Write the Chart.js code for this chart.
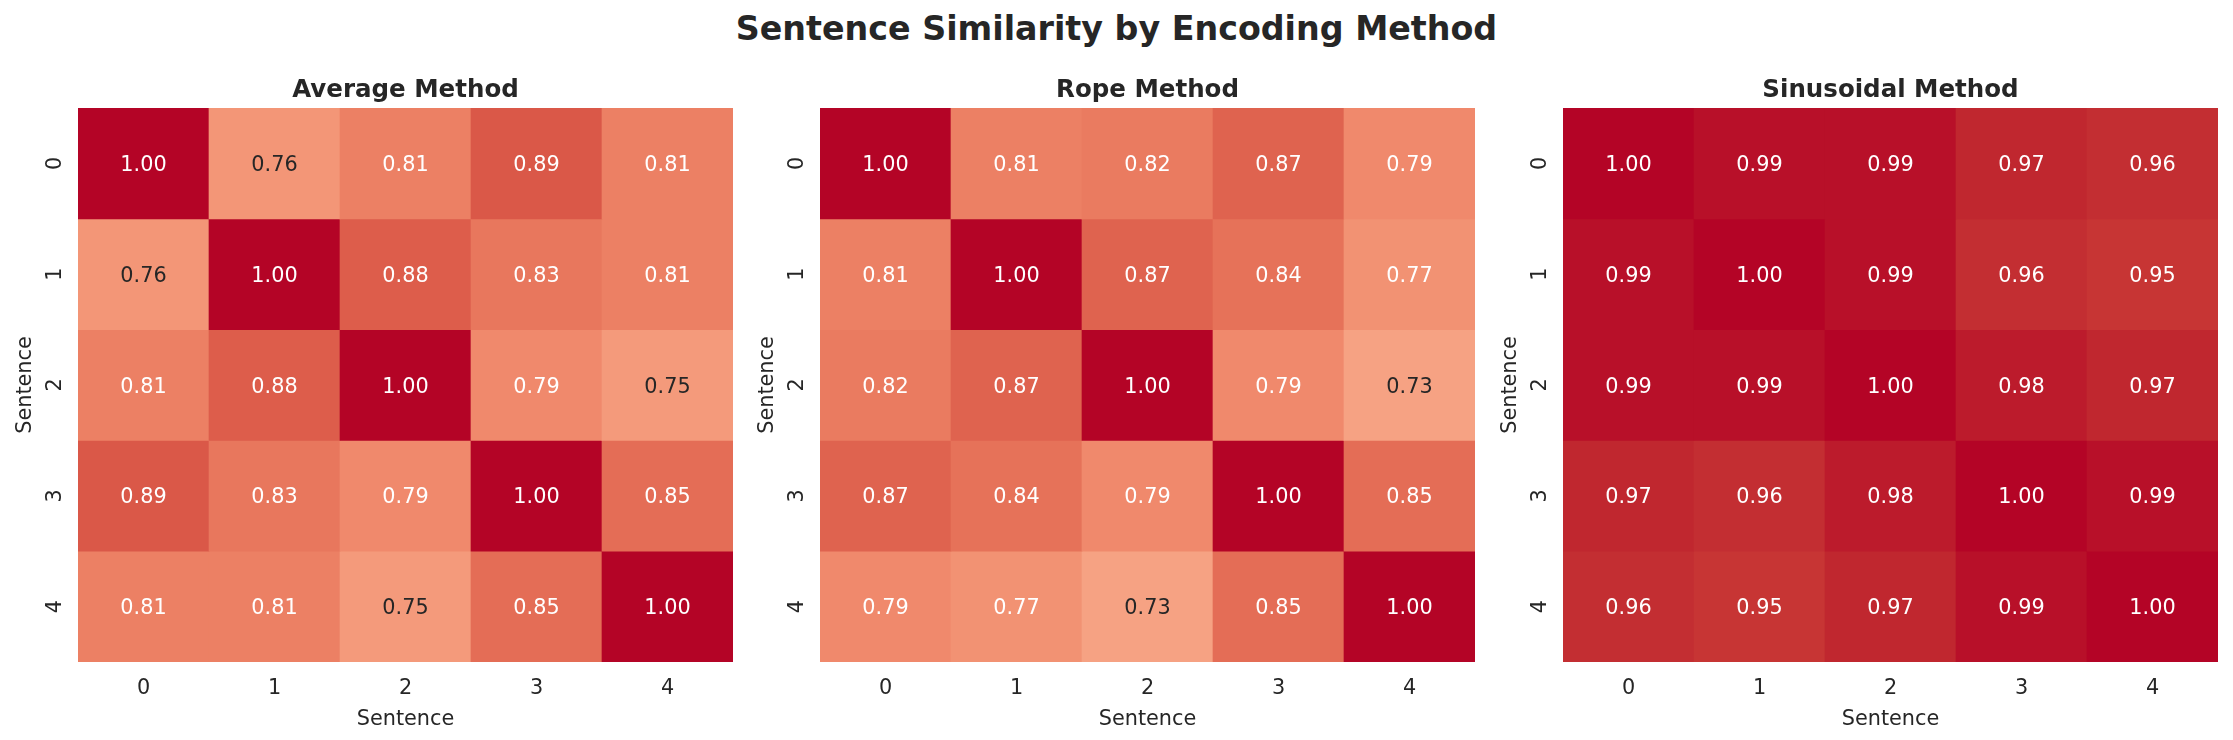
<!DOCTYPE html>
<html>
<head>
<meta charset="utf-8">
<script src="https://cdn.jsdelivr.net/npm/chart.js@4.4.1/dist/chart.umd.min.js"></script>
<style>
  html, body { margin: 0; padding: 0; background: #ffffff; }
  #wrap { position: relative; width: 2233px; height: 740px; overflow: hidden; background: #ffffff; }
  #mainTitle { position: absolute; left: 0; top: 0; width: 2233px; height: 58px; line-height: 58px;
    text-align: center; font-family: "DejaVu Sans"; font-weight: bold; font-size: 33.3px; color: #262626; white-space: nowrap; }
  canvas { position: absolute; top: 0; }
</style>
</head>
<body>
<div id="wrap">
  <div id="mainTitle"></div>
  <canvas id="c0" width="739" height="740" style="left:0px"></canvas>
  <canvas id="c1" width="739" height="740" style="left:742px"></canvas>
  <canvas id="c2" width="739" height="740" style="left:1485px"></canvas>
</div>
<script>
// ---------------- data ----------------
const mainTitle = 'Sentence Similarity by Encoding Method';
const panelTitles = ['Average Method', 'Rope Method', 'Sinusoidal Method'];
const axisTitle = 'Sentence';
const xTickLabels = ['0', '1', '2', '3', '4'];
const yTickLabels = ['0', '1', '2', '3', '4'];

const averageValues = [
  [1.00, 0.76, 0.81, 0.89, 0.81],
  [0.76, 1.00, 0.88, 0.83, 0.81],
  [0.81, 0.88, 1.00, 0.79, 0.75],
  [0.89, 0.83, 0.79, 1.00, 0.85],
  [0.81, 0.81, 0.75, 0.85, 1.00]
];
const ropeValues = [
  [1.00, 0.81, 0.82, 0.87, 0.79],
  [0.81, 1.00, 0.87, 0.84, 0.77],
  [0.82, 0.87, 1.00, 0.79, 0.73],
  [0.87, 0.84, 0.79, 1.00, 0.85],
  [0.79, 0.77, 0.73, 0.85, 1.00]
];
const sinusoidalValues = [
  [1.00, 0.99, 0.99, 0.97, 0.96],
  [0.99, 1.00, 0.99, 0.96, 0.95],
  [0.99, 0.99, 1.00, 0.98, 0.97],
  [0.97, 0.96, 0.98, 1.00, 0.99],
  [0.96, 0.95, 0.97, 0.99, 1.00]
];
const colorMin = 0;
const colorMax = 1;

// ---------------- style ----------------
const FONT = 'DejaVu Sans';
const TEXT_DARK = '#262626';
// coolwarm colormap anchors (position, r, g, b)
const COOLWARM = [
  [0.0, 59, 76, 192], [0.125, 98, 130, 234], [0.25, 141, 176, 254], [0.375, 184, 208, 249],
  [0.5, 221, 221, 221], [0.5625, 237, 211, 197], [0.625, 246, 196, 173], [0.6875, 247, 177, 148],
  [0.71875, 247, 166, 135], [0.75, 244, 154, 123], [0.78125, 241, 141, 111], [0.8125, 236, 127, 99],
  [0.84375, 229, 112, 88], [0.875, 222, 96, 77], [0.90625, 213, 80, 66], [0.9375, 203, 62, 56],
  [0.96875, 192, 40, 47], [1.0, 180, 4, 38]
];
function cmapRGB(v) {
  let t = (v - colorMin) / (colorMax - colorMin);
  t = Math.max(0, Math.min(1, t));
  for (let i = 1; i < COOLWARM.length; i++) {
    const a = COOLWARM[i - 1], b = COOLWARM[i];
    if (t <= b[0]) {
      const f = (t - a[0]) / (b[0] - a[0]);
      return [a[1] + f * (b[1] - a[1]), a[2] + f * (b[2] - a[2]), a[3] + f * (b[3] - a[3])];
    }
  }
  const l = COOLWARM[COOLWARM.length - 1];
  return [l[1], l[2], l[3]];
}
function cmap(v) {
  const c = cmapRGB(v);
  return 'rgb(' + Math.round(c[0]) + ',' + Math.round(c[1]) + ',' + Math.round(c[2]) + ')';
}
function textColorFor(v) {
  const c = cmapRGB(v).map(x => {
    const s = x / 255;
    return s <= 0.03928 ? s / 12.92 : Math.pow((s + 0.055) / 1.055, 2.4);
  });
  const lum = 0.2126 * c[0] + 0.7152 * c[1] + 0.0722 * c[2];
  return lum > 0.408 ? TEXT_DARK : '#ffffff';
}

document.getElementById('mainTitle').textContent = mainTitle;

const annotatePlugin = {
  id: 'annotateCells',
  afterDatasetsDraw(chart) {
    const ctx = chart.ctx;
    const size = 20.8;
    ctx.save();
    ctx.font = size + 'px "' + FONT + '"';
    ctx.textAlign = 'center';
    ctx.textBaseline = 'alphabetic';
    chart.data.datasets.forEach((ds, di) => {
      const meta = chart.getDatasetMeta(di);
      meta.data.forEach((bar, i) => {
        const v = ds.cellValues[i];
        const p = bar.getProps(['x', 'y', 'base'], true);
        ctx.fillStyle = textColorFor(v);
        ctx.fillText(v.toFixed(2), p.x, (p.y + p.base) / 2 + 0.3645 * size);
      });
    });
    ctx.restore();
  }
};

function buildPanel(canvasId, values, title) {
  const datasets = values.map((row, r) => ({
    label: yTickLabels[r],
    data: row.map(() => [r, r + 1]),
    cellValues: row,
    backgroundColor: row.map(v => cmap(v)),
    borderWidth: 0,
    barPercentage: 1,
    categoryPercentage: 1,
    grouped: false
  }));
  const tickFont = { family: FONT, size: 20.8 };
  const labelFont = { family: FONT, size: 20.8 };
  return new Chart(document.getElementById(canvasId), {
    type: 'bar',
    data: { labels: xTickLabels, datasets: datasets },
    options: {
      responsive: false,
      animation: false,
      events: [],
      layout: { padding: { left: 0, right: 6, top: 0, bottom: 0 } },
      plugins: {
        legend: { display: false },
        tooltip: { enabled: false },
        title: {
          display: true,
          text: title,
          fullSize: false,
          color: TEXT_DARK,
          font: { family: FONT, size: 24.5, weight: 'bold', lineHeight: 1.2 },
          padding: { top: 76.3, bottom: 2.3 }
        }
      },
      scales: {
        x: {
          type: 'category',
          offset: true,
          grid: { display: false, drawTicks: false },
          border: { display: false },
          ticks: { color: TEXT_DARK, font: tickFont, padding: 14.5, minRotation: 0, maxRotation: 0, autoSkip: false },
          title: { display: true, text: axisTitle, color: TEXT_DARK, font: labelFont, padding: { top: 0, bottom: 7.5 } },
          afterFit(s) { s.height = 78; }
        },
        y: {
          type: 'linear',
          min: 0,
          max: yTickLabels.length,
          reverse: true,
          grid: { display: false, drawTicks: false },
          border: { display: false },
          afterBuildTicks(s) { s.ticks = yTickLabels.map((_, i) => ({ value: i + 0.5 })); },
          ticks: {
            color: TEXT_DARK, font: tickFont, autoSkip: false,
            minRotation: 90, maxRotation: 90, crossAlign: 'center', padding: 15.4,
            callback: (v, i) => yTickLabels[i]
          },
          title: { display: true, text: axisTitle, color: TEXT_DARK, font: labelFont, padding: { top: 13.5, bottom: 0 } },
          afterFit(s) { s.width = 78; }
        }
      }
    },
    plugins: [annotatePlugin]
  });
}

buildPanel('c0', averageValues, panelTitles[0]);
buildPanel('c1', ropeValues, panelTitles[1]);
buildPanel('c2', sinusoidalValues, panelTitles[2]);
</script>
</body>
</html>
